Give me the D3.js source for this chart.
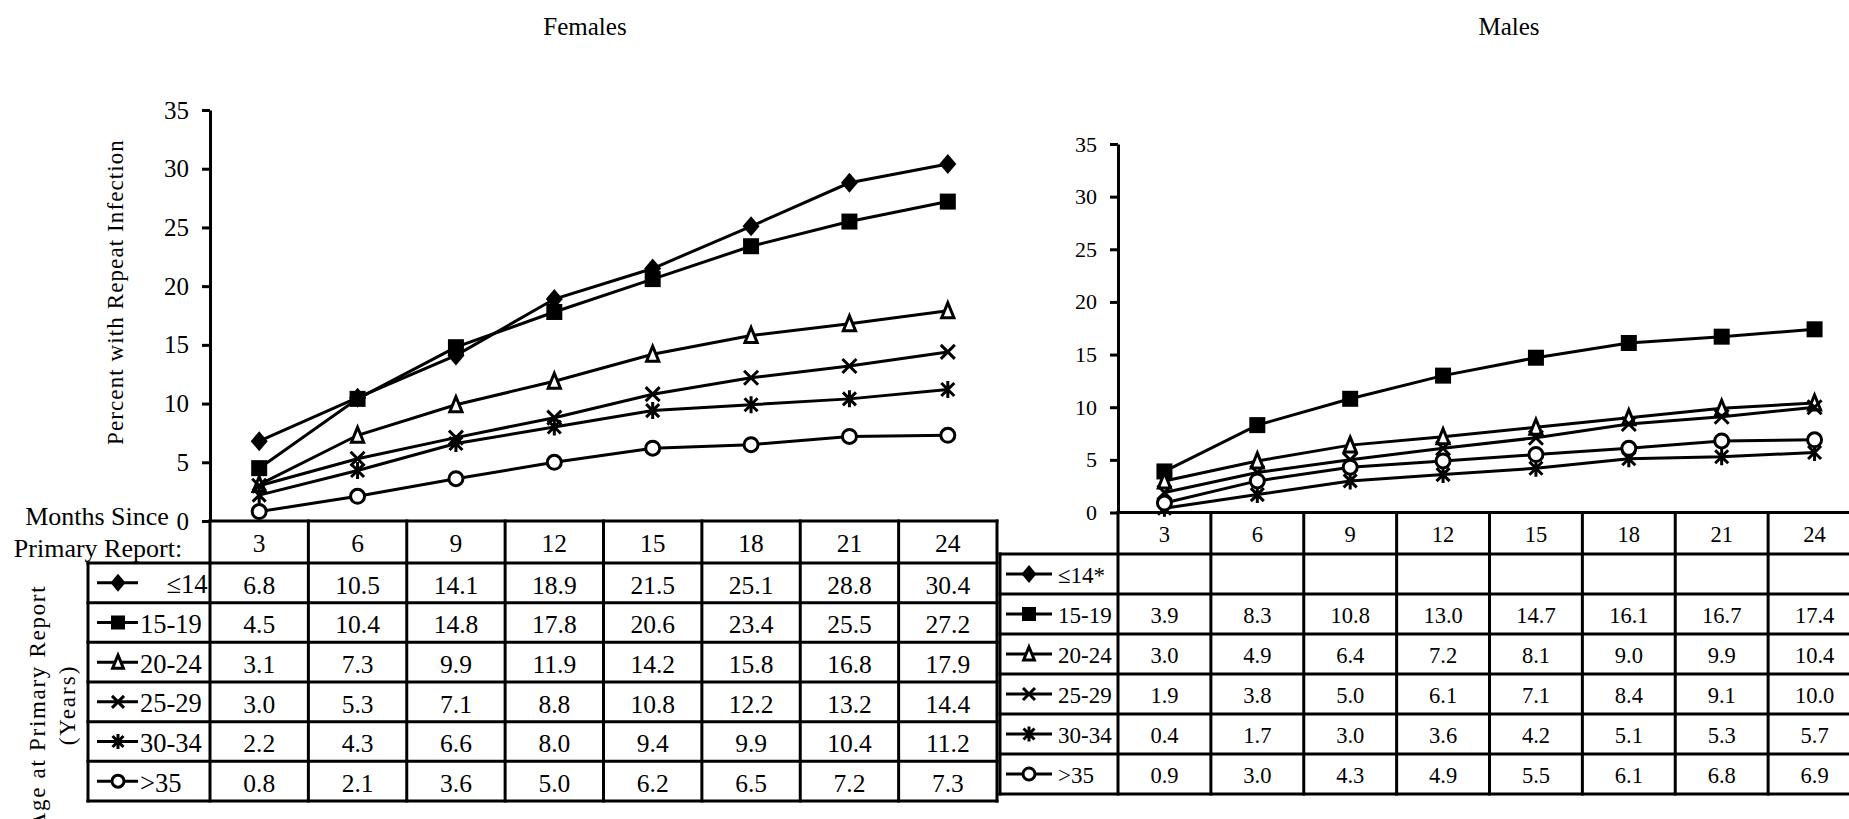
<!DOCTYPE html>
<html>
<head>
<meta charset="utf-8">
<script src="https://cdn.jsdelivr.net/npm/d3@7"></script>
<style>
  body { margin: 0; background: #fff; }
  text { font-family: "Liberation Serif", "Times New Roman", serif; fill: #000; }
</style>
</head>
<body>
<div id="canvas"></div>
<script>
// months since primary report (x categories / table header)
var months = [3, 6, 9, 12, 15, 18, 21, 24];
var yTicks = [0, 5, 10, 15, 20, 25, 30, 35];

// age groups, one row of the table each
var femaleGroups = ["\u00a0\u00a0\u00a0\u00a0\u226414", "15-19", "20-24", "25-29", "30-34", ">35"];
var maleGroups = ["\u226414*", "15-19", "20-24", "25-29", "30-34", ">35"];
var markerTypes = ["diamond", "square", "triangle", "cross", "asterisk", "circle"];

// percent with repeat infection, females
var femaleLe14 = [6.8, 10.5, 14.1, 18.9, 21.5, 25.1, 28.8, 30.4];
var female15to19 = [4.5, 10.4, 14.8, 17.8, 20.6, 23.4, 25.5, 27.2];
var female20to24 = [3.1, 7.3, 9.9, 11.9, 14.2, 15.8, 16.8, 17.9];
var female25to29 = [3.0, 5.3, 7.1, 8.8, 10.8, 12.2, 13.2, 14.4];
var female30to34 = [2.2, 4.3, 6.6, 8.0, 9.4, 9.9, 10.4, 11.2];
var femaleOver35 = [0.8, 2.1, 3.6, 5.0, 6.2, 6.5, 7.2, 7.3];

// males (no data for <=14)
var maleLe14 = [];
var male15to19 = [3.9, 8.3, 10.8, 13.0, 14.7, 16.1, 16.7, 17.4];
var male20to24 = [3.0, 4.9, 6.4, 7.2, 8.1, 9.0, 9.9, 10.4];
var male25to29 = [1.9, 3.8, 5.0, 6.1, 7.1, 8.4, 9.1, 10.0];
var male30to34 = [0.4, 1.7, 3.0, 3.6, 4.2, 5.1, 5.3, 5.7];
var maleOver35 = [0.9, 3.0, 4.3, 4.9, 5.5, 6.1, 6.8, 6.9];

var femaleSeries = [femaleLe14, female15to19, female20to24, female25to29, female30to34, femaleOver35];
var maleSeries = [maleLe14, male15to19, male20to24, male25to29, male30to34, maleOver35];

Panel.STROKE = "#000";
Panel.LINE_WIDTH = 3;

function Panel(svg, layout, title, groups, series) {
    this.layout = layout;
    this.groups = groups;
    this.series = series;
    this.g = svg.append("g");

    this.x = d3.scaleBand().domain(months).range([layout.left, layout.right]);
    this.y = d3.scaleLinear().domain([0, 35]).range([layout.zero, layout.top]);
    this.rows = d3.scaleBand().domain(groups).range([layout.header, layout.bottom]);

    this.g.append("text")
        .attr("x", layout.titleX).attr("y", 35)
        .attr("text-anchor", "middle")
        .attr("font-size", 25)
        .text(title);

    this._drawTable();
    this._drawAxis();
    this._drawSeries();
    this._drawLegend();
}

Panel.prototype._drawAxis = function() {
    var L = this.layout;
    var axis = this.g.append("g")
        .attr("transform", "translate(" + L.left + ",0)")
        .call(d3.axisLeft(this.y).tickValues(yTicks).tickSize(8).tickSizeOuter(0).tickPadding(13));
    axis.attr("font-family", null).attr("font-size", L.tickFont);
    axis.selectAll("path, line").attr("stroke", Panel.STROKE).attr("stroke-width", Panel.LINE_WIDTH);
}

Panel.prototype._drawTable = function() {
    var L = this.layout, x = this.x, rows = this.rows, g = this.g;
    var colEdges = months.map(function(m){ return x(m); }).concat([L.right]);
    var rowEdges = this.groups.map(function(d){ return rows(d); }).concat([L.bottom]);

    var grid = g.append("g")
        .attr("stroke", Panel.STROKE)
        .attr("stroke-width", Panel.LINE_WIDTH)
        .attr("stroke-linecap", "square");

    grid.append("line")
        .attr("x1", L.left).attr("x2", L.right)
        .attr("y1", L.zero).attr("y2", L.zero);

    grid.selectAll("line.row").data(rowEdges).enter().append("line")
        .attr("class", "row")
        .attr("x1", L.legendLeft).attr("x2", L.right)
        .attr("y1", function(d){ return d; }).attr("y2", function(d){ return d; });

    grid.selectAll("line.col").data(colEdges).enter().append("line")
        .attr("class", "col")
        .attr("x1", function(d){ return d; }).attr("x2", function(d){ return d; })
        .attr("y1", L.zero).attr("y2", L.bottom);

    grid.append("line")
        .attr("x1", L.legendLeft).attr("x2", L.legendLeft)
        .attr("y1", L.header).attr("y2", L.bottom);

    var bw = x.bandwidth(), rh = rows.bandwidth();

    g.selectAll("text.month").data(months).enter().append("text")
        .attr("class", "month")
        .attr("x", function(m){ return x(m) + bw / 2; })
        .attr("y", (L.zero + L.header) / 2)
        .attr("dy", "0.4em")
        .attr("text-anchor", "middle")
        .attr("font-size", L.cellFont)
        .text(function(m){ return m; });

    var groups = this.groups;
    this.series.forEach(function(vals, k) {
        g.selectAll("text.v" + k).data(vals).enter().append("text")
            .attr("class", "v" + k)
            .attr("x", function(v, i){ return x(months[i]) + bw / 2; })
            .attr("y", rows(groups[k]) + rh / 2)
            .attr("dy", "0.42em")
            .attr("text-anchor", "middle")
            .attr("font-size", L.cellFont)
            .text(function(v){ return v.toFixed(1); });
    });
}

Panel.prototype._drawSeries = function() {
    var x = this.x, y = this.y, g = this.g, L = this.layout;
    var bw = x.bandwidth();
    var line = d3.line()
        .x(function(v, i){ return x(months[i]) + bw / 2; })
        .y(function(v){ return y(v); });

    this.series.forEach(function(vals, k) {
        if (!vals.length) return;
        g.append("path")
            .attr("d", line(vals))
            .attr("fill", "none")
            .attr("stroke", Panel.STROKE)
            .attr("stroke-width", Panel.LINE_WIDTH);
        vals.forEach(function(v, i) {
            g.append("g")
                .attr("transform", "translate(" + (x(months[i]) + bw / 2) + "," + y(v) + ")")
                .call(drawMarker, markerTypes[k], L.markerSize);
        });
    });
}

Panel.prototype._drawLegend = function() {
    var L = this.layout, rows = this.rows, g = this.g;
    var rh = rows.bandwidth();
    this.groups.forEach(function(label, k) {
        var cy = rows(label) + rh / 2;
        g.append("line")
            .attr("x1", L.legendLeft + L.legendLine[0]).attr("x2", L.legendLeft + L.legendLine[1])
            .attr("y1", cy).attr("y2", cy)
            .attr("stroke", Panel.STROKE).attr("stroke-width", Panel.LINE_WIDTH);
        g.append("g")
            .attr("transform", "translate(" + (L.legendLeft + L.legendMark) + "," + cy + ")")
            .call(drawMarker, markerTypes[k], L.legendMarkerSize);
        g.append("text")
            .attr("x", L.legendLeft + L.legendText)
            .attr("y", cy)
            .attr("dy", "0.4em")
            .attr("font-size", L.legendFont)
            .text(label);
    });
}

function drawMarker(sel, type, size) {
    var s = size / 2;
    if (type == "diamond") {
        sel.append("path").attr("d", "M0," + (-s - 1.5) + "L" + s + ",0L0," + (s + 1.5) + "L" + (-s) + ",0Z")
            .attr("fill", "#000");
    } else if (type == "square") {
        sel.append("rect").attr("x", -s + 0.5).attr("y", -s + 0.5).attr("width", size - 1).attr("height", size - 1)
            .attr("fill", "#000");
    } else if (type == "triangle") {
        sel.append("path").attr("d", "M0," + (-s + 0.5) + "L" + (s * 0.72) + "," + (s - 1.5) + "L" + (-s * 0.72) + "," + (s - 1.5) + "Z")
            .attr("fill", "#fff").attr("stroke", "#000").attr("stroke-width", 3);
    } else if (type == "cross") {
        var c = s - 1.5;
        sel.append("path").attr("d", "M" + (-c) + "," + (-c) + "L" + c + "," + c + "M" + c + "," + (-c) + "L" + (-c) + "," + c)
            .attr("stroke", "#000").attr("stroke-width", 3);
    } else if (type == "asterisk") {
        var a = s - 2;
        sel.append("path").attr("d", "M" + (-a) + "," + (-a) + "L" + a + "," + a + "M" + a + "," + (-a) + "L" + (-a) + "," + a + "M0," + (-s) + "V" + s)
            .attr("stroke", "#000").attr("stroke-width", 3);
    } else if (type == "circle") {
        sel.append("circle").attr("r", s - 1.5)
            .attr("fill", "#fff").attr("stroke", "#000").attr("stroke-width", 3);
    }
}

var svg = d3.select("#canvas").append("svg")
    .attr("width", 1849).attr("height", 819);

var female = new Panel(svg, {
    left: 210, right: 997, top: 110, zero: 521, header: 563, bottom: 801,
    legendLeft: 88, legendLine: [9, 50], legendMark: 30, legendText: 52,
    titleX: 585, tickFont: 25, cellFont: 25.5, legendFont: 26.5,
    markerSize: 17, legendMarkerSize: 15
}, "Females", femaleGroups, femaleSeries);

var male = new Panel(svg, {
    left: 1118, right: 1861, top: 144, zero: 512.5, header: 554, bottom: 794,
    legendLeft: 1000, legendLine: [6, 52], legendMark: 29, legendText: 58,
    titleX: 1509, tickFont: 22, cellFont: 22.5, legendFont: 23,
    markerSize: 17, legendMarkerSize: 15
}, "Males", maleGroups, maleSeries);

// axis titles (female side)
svg.append("text")
    .attr("transform", "translate(115,292) rotate(-90)")
    .attr("dy", "0.35em")
    .attr("text-anchor", "middle")
    .attr("font-size", 23)
    .attr("letter-spacing", 1.1)
    .text("Percent with Repeat Infection");

svg.append("text")
    .attr("x", 97).attr("y", 525)
    .attr("text-anchor", "middle")
    .attr("font-size", 26)
    .text("Months Since");
svg.append("text")
    .attr("x", 98).attr("y", 557)
    .attr("text-anchor", "middle")
    .attr("font-size", 26)
    .text("Primary Report:");

svg.append("text")
    .attr("transform", "translate(37,707) rotate(-90)")
    .attr("dy", "0.35em")
    .attr("text-anchor", "middle")
    .attr("font-size", 23)
    .attr("letter-spacing", 1.7)
    .text("Age at Primary Report");
svg.append("text")
    .attr("transform", "translate(67,705) rotate(-90)")
    .attr("dy", "0.35em")
    .attr("text-anchor", "middle")
    .attr("font-size", 23)
    .attr("letter-spacing", 2)
    .text("(Years)");
</script>
</body>
</html>
